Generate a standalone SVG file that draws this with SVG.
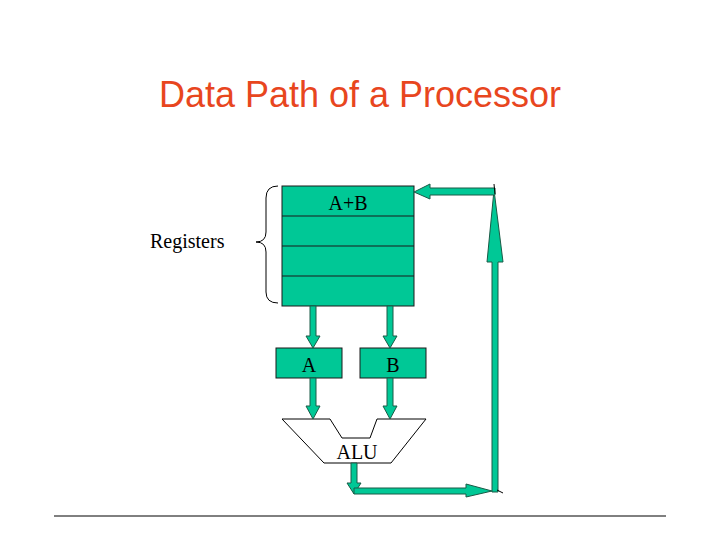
<svg xmlns="http://www.w3.org/2000/svg" width="720" height="540" viewBox="0 0 720 540">
<style>
.g{fill:#00C896;stroke:#1a1a1a;stroke-width:1}
.t{font-family:"Liberation Serif",serif;font-size:20px;fill:#000}
.ar{fill:#00C896;stroke:#1a5a46;stroke-width:1}
</style>
<rect width="720" height="540" fill="#fff"/>
<text x="360" y="107" text-anchor="middle" font-family="Liberation Sans,sans-serif" font-size="36" fill="#E8461E">Data Path of a Processor</text>
<g id="registers">
<rect class="g" x="282" y="186" width="132" height="120"/>
<line x1="282" y1="216" x2="414" y2="216" stroke="#1a1a1a"/>
<line x1="282" y1="246" x2="414" y2="246" stroke="#1a1a1a"/>
<line x1="282" y1="276" x2="414" y2="276" stroke="#1a1a1a"/>
<text class="t" x="348" y="210" text-anchor="middle">A+B</text>
</g>
<g id="brace">
<path d="M278,186 Q266,186 266,198 L266,232 Q266,242 256,242 Q266,242 266,252 L266,292 Q266,303 278,303" fill="none" stroke="#000"/>
<text class="t" x="150" y="248">Registers</text>
</g>
<g id="regA"><rect class="g" x="276" y="348" width="66" height="30"/><text class="t" x="309" y="372" text-anchor="middle">A</text></g>
<g id="regB"><rect class="g" x="360" y="348" width="66" height="30"/><text class="t" x="393" y="372" text-anchor="middle">B</text></g>
<g id="alu">
<polygon points="282,419 330,419 342,438 370,438 377,419 426,419 391,463 324,463" fill="#fff" stroke="#000"/>
<text class="t" x="357" y="459" text-anchor="middle">ALU</text>
</g>
<g id="connectors">
<polygon class="ar" points="310,306 316,306 316,336 320,336 313,348 306,336 310,336"/>
<polygon class="ar" points="387,306 393,306 393,336 397,336 390,348 383,336 387,336"/>
<polygon class="ar" points="310,378 316,378 316,406 320,406 313,419 306,406 310,406"/>
<polygon class="ar" points="387,378 393,378 393,406 397,406 390,419 383,406 387,406"/>
<polygon class="ar" points="351,463 357,463 357,483 361,483 354,494 347,483 351,483"/>
<polygon class="ar" points="354,488 466,488 466,484 492,491 466,497 466,494 354,494"/>
<polygon class="ar" points="492,492 492,262 487,262 494,190 503,262 498,262 498,492"/>
<polygon class="ar" points="495,188 430,188 430,184 414,192 430,199 430,195 495,195"/>
<line x1="494" y1="184" x2="495" y2="194" stroke="#000"/>
<line x1="497" y1="490" x2="503" y2="493" stroke="#000"/>
</g>
<line x1="54" y1="516" x2="666" y2="516" stroke="#000"/>
</svg>
